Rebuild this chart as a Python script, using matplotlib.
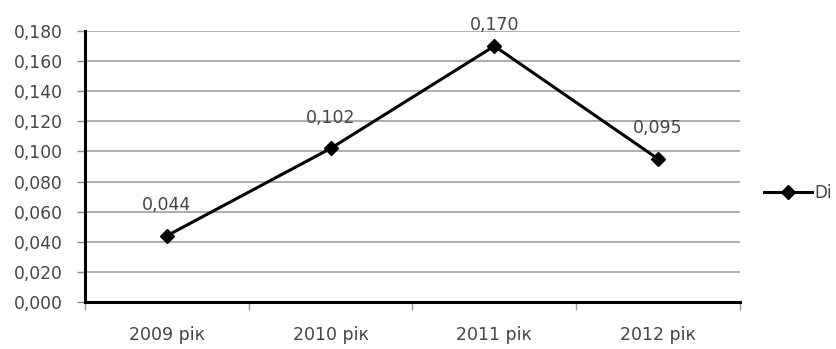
import matplotlib
matplotlib.use("Agg")
import matplotlib.pyplot as plt
from matplotlib.ticker import FixedLocator, FuncFormatter

categories = ["2009 рік", "2010 рік", "2011 рік", "2012 рік"]
values = [0.044, 0.102, 0.170, 0.095]
series_name = "Di"
yticks = [0.0, 0.02, 0.04, 0.06, 0.08, 0.10, 0.12, 0.14, 0.16, 0.18]

plt.rcParams['font.family'] = ['DejaVu Sans']
TXT = '#454545'

fig = plt.figure(figsize=(8.37, 3.49), dpi=100)
ax = fig.add_axes([85/837, 1-302/349, (740-85)/837, (302-31)/349])

x = list(range(len(categories)))
line, = ax.plot(x, values, color='black', linewidth=2.2, marker='D', markersize=7, label=series_name)

for xi, v in zip(x, values):
    ly = min(v + 0.0205, 0.184)
    ax.text(xi, ly, f"{v:.3f}".replace('.', ','), ha='center', va='center',
            fontsize=12.5, color=TXT, clip_on=False)

ax.set_xlim(-0.5, len(categories) - 0.5)
ax.set_ylim(0, 0.18)
ax.set_yticks(yticks)
ax.yaxis.set_major_formatter(FuncFormatter(lambda v, p: f"{v:.3f}".replace('.', ',')))
ax.set_xticks(x)
ax.set_xticklabels(categories)
ax.xaxis.set_minor_locator(FixedLocator([i - 0.5 for i in range(len(categories) + 1)]))
ax.tick_params(axis='x', which='major', length=0, pad=17, labelsize=12.5, labelcolor=TXT)
ax.tick_params(axis='x', which='minor', length=6, color='#999999', width=1)
ax.tick_params(axis='y', which='major', length=6, width=1, color='#888888', labelsize=12.3, labelcolor=TXT, pad=10)

ax.grid(axis='y', color='#a0a0a0', linewidth=1.2)
ax.set_axisbelow(True)
for s in ['top', 'right']:
    ax.spines[s].set_visible(False)
ax.spines['left'].set_linewidth(2.2)
ax.spines['bottom'].set_linewidth(2.2)

fig.legend(handles=[line], labels=[series_name], loc='center left', bbox_to_anchor=(764/837, 1-193/349),
           frameon=False, fontsize=12, handlelength=2.9, handletextpad=0.1, borderaxespad=0,
           labelcolor=TXT, borderpad=0)

fig.savefig("out.png", dpi=100)
